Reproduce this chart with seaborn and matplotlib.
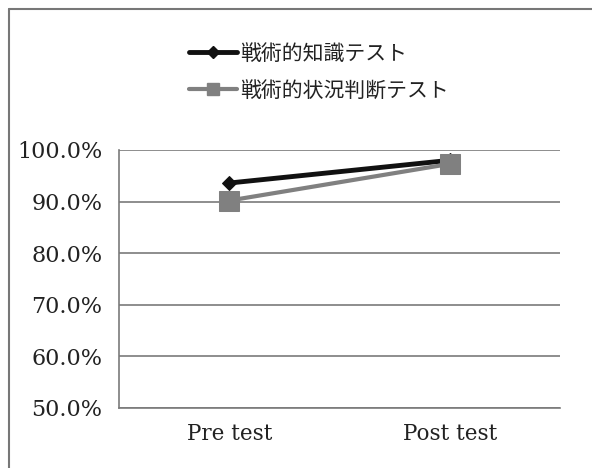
import matplotlib
matplotlib.use("Agg")
import matplotlib.pyplot as plt
import seaborn as sns
import pandas as pd
from matplotlib.lines import Line2D
from matplotlib.ticker import FuncFormatter

categories = ["Pre test", "Post test"]
series_names = ["戦術的知識テスト", "戦術的状況判断テスト"]
knowledge = [93.6, 98.0]
judgment = [90.2, 97.3]
yticks = [50, 60, 70, 80, 90, 100]

rows = []
for c, v in zip(categories, knowledge):
    rows.append({"test": c, "series": series_names[0], "value": v})
for c, v in zip(categories, judgment):
    rows.append({"test": c, "series": series_names[1], "value": v})
df = pd.DataFrame(rows)

sns.set_style("white")
plt.rcParams["font.family"] = ["Noto Sans CJK JP", "DejaVu Sans"]

fig = plt.figure(figsize=(5.92, 4.68), dpi=100)
ax = fig.add_axes([119/592, 1-408/468, (560-119)/592, (408-150)/468])

palette = {series_names[0]: "#111111", series_names[1]: "#808080"}
markers = {series_names[0]: "D", series_names[1]: "s"}
sizes = {series_names[0]: 7, series_names[1]: 14}
widths = {series_names[0]: 3.5, series_names[1]: 3}
for name in series_names:
    sub = df[df["series"] == name]
    sns.lineplot(data=sub, x="test", y="value", ax=ax, color=palette[name],
                 marker=markers[name], markersize=sizes[name], linewidth=widths[name],
                 markeredgecolor=palette[name], sort=False, legend=False)

ax.set_xlim(-0.5, 1.5)
ax.set_ylim(50, 100)
ax.set_yticks(yticks)
ax.yaxis.set_major_formatter(FuncFormatter(lambda v, p: f"{v:.1f}%"))
ax.grid(axis="y", color="#7a7a7a", linewidth=1.2)
ax.set_xlabel("")
ax.set_ylabel("")
for s in ["top", "right"]:
    ax.spines[s].set_visible(False)
for s in ["left", "bottom"]:
    ax.spines[s].set_color("#7a7a7a")
    ax.spines[s].set_linewidth(1.2)
ax.tick_params(axis="y", direction="out", length=6, color="#7a7a7a", width=1.2,
               labelsize=16, pad=6)
ax.tick_params(axis="x", direction="out", length=5, color="#7a7a7a", width=1.2,
               labelsize=15.5, pad=6)
for lab in ax.get_yticklabels() + ax.get_xticklabels():
    lab.set_family(["DejaVu Serif"])
    lab.set_color("#222222")

handles = [Line2D([], [], color=palette[n], marker=markers[n], linewidth=widths[n],
                  markersize=(6 if n == series_names[0] else 8)) for n in series_names]
leg = fig.legend(handles, series_names,
                 loc="upper left", bbox_to_anchor=(170/592, 1-24/468),
                 frameon=False, fontsize=15, handlelength=2.3,
                 handletextpad=0.15, labelspacing=0.7)
for t in leg.get_texts():
    t.set_color("#222222")

fig.add_artist(Line2D([9/592, 9/592], [0, 1-9/468], transform=fig.transFigure,
                      color="#777777", linewidth=1.5))
fig.add_artist(Line2D([9/592, 1], [1-9/468, 1-9/468], transform=fig.transFigure,
                      color="#777777", linewidth=1.5))

fig.savefig("out.png", dpi=100, facecolor="white")
